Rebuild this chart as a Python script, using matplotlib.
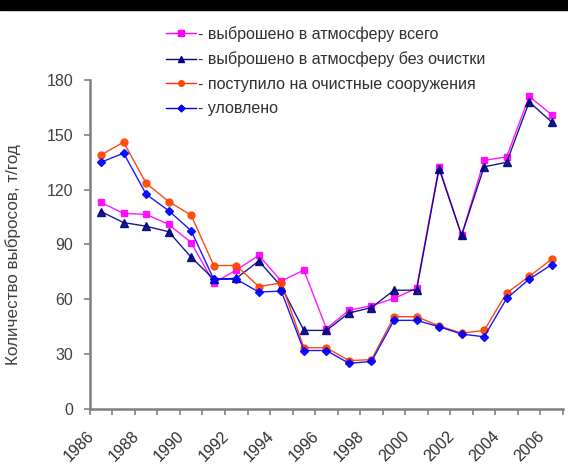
import matplotlib
matplotlib.use("Agg")
import matplotlib.pyplot as plt
import matplotlib.transforms as mtransforms
from matplotlib.patches import Rectangle
from matplotlib.lines import Line2D

plt.rcParams['font.family'] = ['Liberation Sans', 'DejaVu Sans']

years = list(range(1986, 2007))
total = [113, 107, 106.5, 101, 91, 69, 76, 84, 70, 76, 44, 54, 56.5, 60.5, 66,
         132.5, 95, 136, 138, 171, 161]
no_clean = [108, 102, 100, 97, 83, 71, 71.5, 81, 67, 43, 43, 52.5, 55.5, 65, 65,
            131.5, 95, 132.5, 135, 168, 157]
to_treatment = [139, 146, 123.5, 113.5, 106, 78.5, 78.5, 67, 69, 33.5, 33.5, 26.5,
                27, 50.5, 50.5, 45.5, 41.5, 43, 63.5, 72.5, 82]
captured = [135, 140, 117.5, 108.5, 97.5, 71, 71, 64, 64.5, 32, 32, 25, 26, 48.5,
            48.5, 45, 41, 39.5, 60.5, 71, 79]

labels = ["- выброшено в атмосферу всего",
          "- выброшено в атмосферу без очистки",
          "- поступило на очистные сооружения",
          "- уловлено"]
yticks = [0, 30, 60, 90, 120, 150, 180]
ylabel = "Количество выбросов, т/год"

W, H = 568, 474
fig = plt.figure(figsize=(W / 100, H / 100), dpi=100)
fig.patches.append(Rectangle((0, 1 - 10 / H), 1, 10 / H, transform=fig.transFigure,
                             color='black', zorder=0))

ax = fig.add_axes([89.8 / W, 1 - 409 / H, (563 - 89.8) / W, (409 - 80) / H])
x = list(range(len(years)))

styles = [
    (total, '#FF00FF', '#FF00FF', 's', 5),
    (no_clean, '#000080', '#000080', '^', 5.5),
    (to_treatment, '#FF3300', '#FF4400', 'o', 5),
    (captured, '#0000FF', '#0000FF', 'D', 4.5),
]
handles = []
for (vals, lc, mc, mk, ms), lab in zip(styles, labels):
    ax.plot(x, vals, color=lc, lw=1.0, marker=mk, ms=ms, mfc=mc, mec=mc, alpha=0.9)
    handles.append(Line2D([], [], color=lc, lw=1.0, marker=mk, ms=ms - 1, mfc=mc, mec=mc))

ax.set_xlim(-0.5, len(years) - 0.5)
ax.set_ylim(0, 180)
ax.set_yticks(yticks)
ax.set_yticklabels([str(v) for v in yticks])

ax.set_xticks([i - 0.5 for i in range(len(years) + 1)])
ax.set_xticklabels([])
ax.set_xticks([i for i, y in enumerate(years) if y % 2 == 0], minor=True)
ax.set_xticklabels([str(y) for y in years if y % 2 == 0], minor=True, rotation=45,
                   ha='right', va='top', rotation_mode='anchor')
ax.tick_params(axis='x', which='minor', length=0, pad=14, labelsize=11.5,
               labelcolor='#303030')
ax.tick_params(axis='x', which='major', length=4, width=1.2, color='#808080',
               direction='out')
ax.tick_params(axis='y', length=4, width=1.2, color='#808080', direction='out',
               labelsize=11.5, labelcolor='#404040', pad=8)

shift = mtransforms.ScaledTranslation(-15 / 100, 0, fig.dpi_scale_trans)
for lbl in ax.get_xticklabels(minor=True):
    lbl.set_transform(lbl.get_transform() + shift)

for s in ['top', 'right']:
    ax.spines[s].set_visible(False)
for s in ['left', 'bottom']:
    ax.spines[s].set_color('#808080')
    ax.spines[s].set_linewidth(1.8)

ax.set_ylabel(ylabel, fontsize=12.3, color='#404040')
ax.yaxis.set_label_coords(-0.145, 0.47)

fig.legend(handles, labels, loc='upper left', bbox_to_anchor=(166 / W, 1 - 26 / H),
           frameon=False, fontsize=11.5, labelcolor='#303030', handlelength=1.85,
           handletextpad=0.15, labelspacing=0.6, borderaxespad=0, borderpad=0)

fig.savefig("out.png", dpi=100)
